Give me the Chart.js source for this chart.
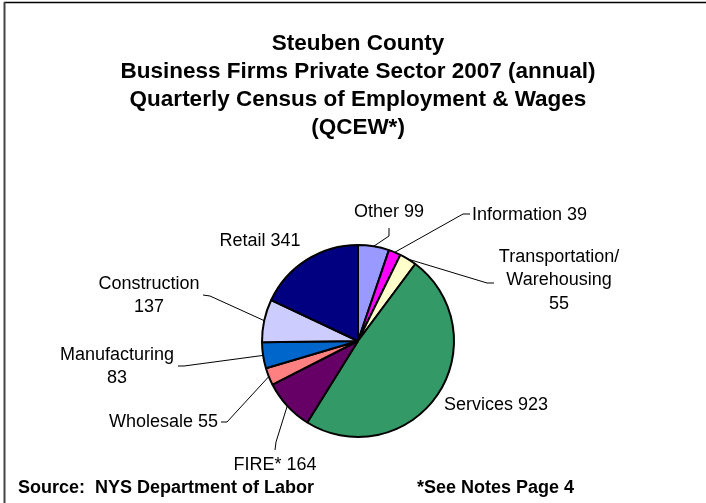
<!DOCTYPE html>
<html>
<head>
<meta charset="utf-8">
<title>Steuben County Business Firms 2007</title>
<script src="https://cdn.jsdelivr.net/npm/chart.js@4.4.1/dist/chart.umd.min.js"></script>
<style>
  html, body { margin: 0; padding: 0; background: #fff; }
  #wrap { position: relative; width: 706px; height: 503px; }
</style>
</head>
<body>
<div id="wrap"><canvas id="firmsPie"></canvas></div>
<script>
// sectors clockwise from 12 o'clock
const sectors = ["Other", "Information", "Transportation/\nWarehousing", "Services", "FIRE*", "Wholesale", "Manufacturing", "Construction", "Retail"];
const firms = [99, 39, 55, 923, 164, 55, 83, 137, 341];
const sliceColors = ["#9999FF", "#FF00FF", "#FFFFCC", "#339966", "#660066", "#FF8080", "#0066CC", "#CCCCFF", "#000080"];

const titleLines = [
  "Steuben County",
  "Business Firms Private Sector 2007 (annual)",
  "Quarterly Census of Employment & Wages",
  "(QCEW*)"
];
const footLeft = "Source:  NYS Department of Labor";
const footRight = "*See Notes Page 4";

const FONT = "'Liberation Sans', Arial, sans-serif";

// where each data label sits, and the elbow of its leader line
const labelLayout = [
  { x: 389, y: 212, align: "center", leader: [[389, 228], [389, 236]] },
  { x: 472, y: 215, align: "left", leader: [[470, 214], [463, 214]] },
  { x: 559, y: 257, align: "center", stack: true, leader: [[494, 283], [487, 283]] },
  { x: 444, y: 405, align: "left" },
  { x: 275, y: 465, align: "center", leader: [[275, 450], [276, 442]] },
  { x: 218, y: 422, align: "right", leader: [[221, 422], [227, 422]] },
  { x: 117, y: 355, align: "center", stack: true, leader: [[178, 366], [184, 366]] },
  { x: 149, y: 284, align: "center", stack: true, leader: [[203, 295], [210, 296]] },
  { x: 260, y: 241, align: "center" }
];

function labelText(i) {
  const parts = sectors[i].split("\n");
  if (labelLayout[i].stack) return parts.concat([String(firms[i])]);
  parts[parts.length - 1] += " " + firms[i];
  return parts;
}

const decor = {
  id: "decor",
  beforeDraw(chart) {
    const ctx = chart.ctx;
    ctx.save();
    ctx.fillStyle = "#fff";
    ctx.fillRect(0, 0, chart.width, chart.height);
    // frame
    ctx.strokeStyle = "#000";
    ctx.lineWidth = 1.5;
    ctx.beginPath();
    ctx.moveTo(4, 2.5);
    ctx.lineTo(706, 2.5);
    ctx.stroke();
    ctx.strokeStyle = "#444";
    ctx.lineWidth = 2;
    ctx.beginPath();
    ctx.moveTo(4.5, 2);
    ctx.lineTo(4.5, 503);
    ctx.stroke();
    ctx.restore();
  },
  afterDraw(chart) {
    const ctx = chart.ctx;
    const arcs = chart.getDatasetMeta(0).data;
    ctx.save();
    // leader lines
    ctx.strokeStyle = "#000";
    ctx.lineWidth = 1;
    arcs.forEach((arc, i) => {
      const lay = labelLayout[i];
      if (!lay.leader) return;
      const p = arc.getProps(["x", "y", "startAngle", "endAngle", "outerRadius"], true);
      const mid = (p.startAngle + p.endAngle) / 2;
      const ex = p.x + Math.cos(mid) * p.outerRadius;
      const ey = p.y + Math.sin(mid) * p.outerRadius;
      ctx.beginPath();
      ctx.moveTo(lay.leader[0][0], lay.leader[0][1]);
      for (let k = 1; k < lay.leader.length; k++) ctx.lineTo(lay.leader[k][0], lay.leader[k][1]);
      ctx.lineTo(ex, ey);
      ctx.stroke();
    });
    // data labels
    ctx.fillStyle = "#000";
    ctx.font = "18px " + FONT;
    ctx.textBaseline = "middle";
    labelLayout.forEach((lay, i) => {
      ctx.textAlign = lay.align;
      labelText(i).forEach((line, k) => ctx.fillText(line, lay.x, lay.y + k * 23.5));
    });
    // footer
    ctx.font = "bold 18px " + FONT;
    ctx.textAlign = "left";
    ctx.fillText(footLeft, 18, 488);
    ctx.fillText(footRight, 417, 488);
    ctx.restore();
  }
};

new Chart(document.getElementById("firmsPie"), {
  type: "pie",
  data: {
    labels: sectors,
    datasets: [{
      data: firms,
      backgroundColor: sliceColors,
      borderColor: "#000",
      borderWidth: 2,
      radius: 96
    }]
  },
  options: {
    responsive: true,
    maintainAspectRatio: false,
    animation: false,
    layout: { padding: { left: 15, right: 5, top: 0, bottom: 20 } },
    plugins: {
      legend: { display: false },
      tooltip: { enabled: false },
      title: {
        display: true,
        text: titleLines,
        color: "#000",
        font: { family: FONT, size: 22.5, weight: "bold", lineHeight: 28 / 22.5 },
        padding: { top: 30, bottom: 57 }
      }
    }
  },
  plugins: [decor]
});
</script>
</body>
</html>
